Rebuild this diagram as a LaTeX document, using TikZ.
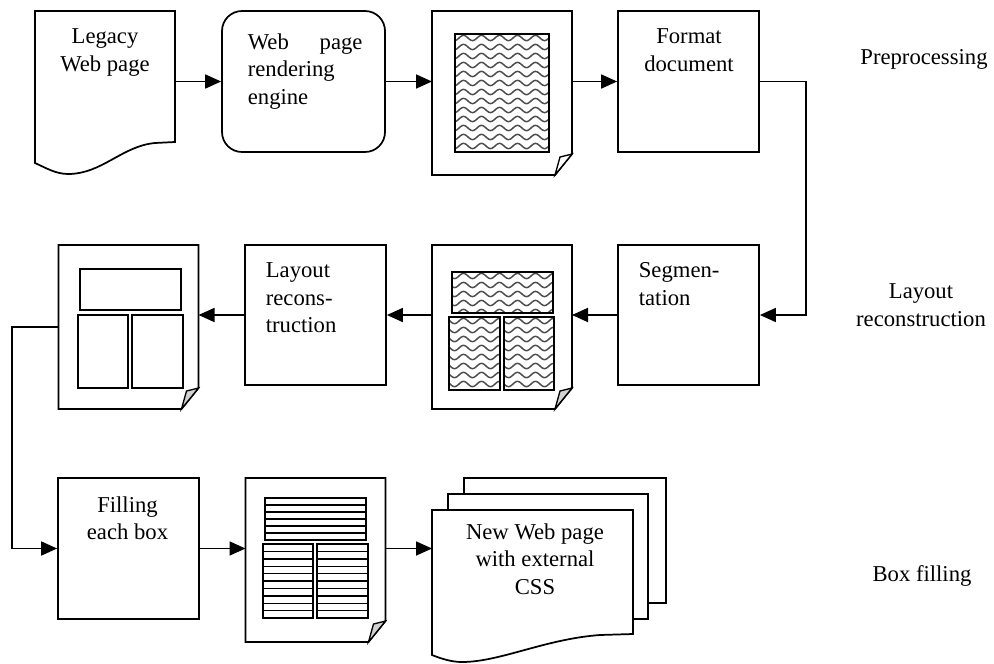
\documentclass[tikz,border=0pt]{standalone}
\usepackage{fontspec}
\setmainfont{Liberation Serif}
\usetikzlibrary{arrows.meta,calc}
\newcommand\mydoc[2]{%
  \draw[fill=white] (#1.north west) -- (#1.north east) -- ($(#1.south east)+(0,-21)$) -- ($(#1.south east)+(-17,0)$) -- (#1.south west) -- cycle;
  \draw[fill=#2, line width=1pt] ($(#1.south east)+(0,-21)$) -- ($(#1.south east)+(-12,-18)$) -- ($(#1.south east)+(-17,0)$) -- cycle;}
\newcommand\wavefill[4]{%
  \begin{scope}
    \clip (#1,#2) rectangle (#3,#4);
    \pgfmathtruncatemacro\wya{#2+4}
    \pgfmathtruncatemacro\wyb{#2+13}
    \foreach \yy in {\wya,\wyb,...,#4} {
      \draw[wavestroke] plot[domain=#1:#3, samples=70, smooth] (\x,{\yy+2.6*sin(20*\x)});
    }
  \end{scope}
  \draw (#1,#2) rectangle (#3,#4);}
\newcommand\stripefill[5]{%
  \foreach \k in {1,...,#5} {
    \draw[line width=1.05pt] (#1,{#2+\k*(#4-#2)/(#5+1)}) -- (#3,{#2+\k*(#4-#2)/(#5+1)});
  }
  \draw (#1,#2) rectangle (#3,#4);}
\begin{document}
\begin{tikzpicture}[x=0.75pt,y=-0.75pt,line width=1.3pt,
  every node/.style={font=\fontsize{17}{20.5}\selectfont, inner sep=0pt},
  shapebox/.style={draw, rectangle, minimum width=105.75pt, minimum height=105.75pt},
  docbox/.style={rectangle, draw=none, outer sep=0pt, minimum width=105pt, minimum height=123pt},
  flow/.style={-{Triangle[length=12pt,width=10.5pt]}},
  wavestroke/.style={line width=1.1pt, black!70},
  txt/.style={align=center},
  txtl/.style={align=left}]
\useasboundingbox (0,0) rectangle (994,663);

% ---------- top row ----------
\node[docbox, minimum height=114pt] (legacy) at (105,87) {};
\draw (35,11) -- (175,11) -- (175,142) -- (155,143) .. controls (122,146) and (102,174) .. (68,174) .. controls (56,174) and (46,168) .. (35,163) -- cycle;
\node[txt, anchor=north] (legacyT) at (105,28) {Legacy\\Web page};

\node[shapebox, rounded corners=15pt, minimum width=122.25pt] (render) at (303.5,81.5) {};
\node[txtl, anchor=north west, text width=86pt] (renderT) at (247,33) {Web\hfill page\\rendering\\engine};

\node[docbox] (doc1) at (502,93) {};
\mydoc{doc1}{white}
\wavefill{455}{34}{549}{152}

\node[shapebox] (format) at (688.5,81.5) {};
\node[txt, anchor=north] (formatT) at (689,28) {Format\\document};

% ---------- middle row ----------
\node[shapebox, minimum height=105pt] (segm) at (688.5,315) {};
\node[txtl, anchor=north west] (segmT) at (638,262) {Segmen-\\tation};

\node[docbox] (doc2) at (502,327) {};
\mydoc{doc2}{gray!35}
\wavefill{452}{272}{553}{313}
\wavefill{449}{317}{500}{390}
\wavefill{504}{317}{554}{390}

\node[shapebox, minimum height=105pt] (layout) at (315.5,315) {};
\node[txtl, anchor=north west] (layoutT) at (265,262) {Layout\\recons-\\truction};

\node[docbox] (doc3) at (128.5,327) {};
\mydoc{doc3}{gray!35}
\draw (80,269) rectangle (181,310);
\draw (78,315) rectangle (128,388);
\draw (132,315) rectangle (183,388);

% ---------- bottom row ----------
\node[shapebox] (fill) at (128.5,548.5) {};
\node[txt, anchor=north] (fillT) at (127.5,495.5) {Filling\\each box};

\node[docbox] (doc4) at (315.5,560) {};
\mydoc{doc4}{gray!35}
\stripefill{265}{498}{366}{540}{5}
\stripefill{263}{544}{313}{618}{9}
\stripefill{317}{544}{368}{618}{9}

\draw[fill=white] (464,478) rectangle (666,603);
\draw[fill=white] (448,494) rectangle (648,619);
\node[docbox, minimum width=150.75pt, minimum height=108.75pt] (newpage) at (532.5,582.5) {};
\draw[fill=white] (432,510) -- (633,510) -- (633,634) -- (600,635) .. controls (545,639) and (500,662) .. (462,662) .. controls (452,662) and (442,659) .. (432,655) -- cycle;
\node[txt, anchor=north] (newpageT) at (535,523) {New Web page\\with external\\CSS};

% ---------- connectors ----------
\draw[flow] (legacy.east |- render.west) -- (render.west);
\draw[flow] (render.east) -- (doc1.west |- render.east);
\draw[flow] (doc1.east |- format.west) -- (format.west);
\coordinate (c1) at (806,200);
\draw[flow] (format.east) -| (c1) |- (segm.east);
\draw[flow] (segm.west) -- (doc2.east |- segm.west);
\draw[flow] (doc2.west |- layout.east) -- (layout.east);
\draw[flow] (layout.west) -- (doc3.east |- layout.west);
\coordinate (c2) at (12,440);
\draw[flow] (doc3.west) -| (c2) |- (fill.west);
\draw[flow] (fill.east) -- (doc4.west |- fill.east);
\draw[flow] (doc4.east |- fill.east) -- (newpage.west |- fill.east);

% ---------- stage labels ----------
\node[txt, anchor=base] (lab1) at (924,65) {Preprocessing};
\node[txt, anchor=north] (lab2) at (921,283) {Layout\\reconstruction};
\node[txt, anchor=base] (lab3) at (922,581) {Box filling};
\end{tikzpicture}
\end{document}
